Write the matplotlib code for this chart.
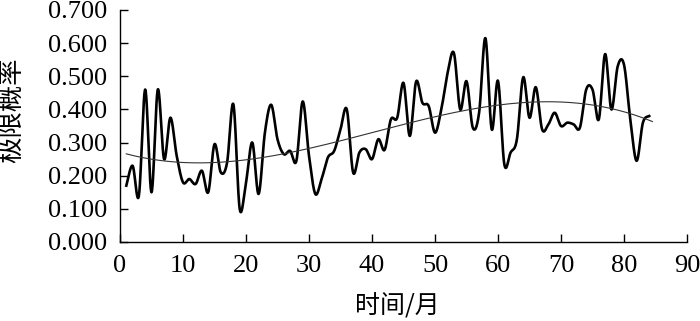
import numpy as np
import matplotlib
matplotlib.use("Agg")
import matplotlib.pyplot as plt

# monthly limit probability
months = list(range(1, 85))
prob = [0.17, 0.23, 0.14, 0.46, 0.15, 0.46, 0.25, 0.375, 0.26, 0.18,
        0.19, 0.175, 0.215, 0.15, 0.295, 0.21, 0.24, 0.415, 0.10, 0.18,
        0.30, 0.145, 0.33, 0.414, 0.31, 0.265, 0.275, 0.245, 0.424, 0.26,
        0.145, 0.19, 0.255, 0.275, 0.34, 0.40, 0.21, 0.27, 0.28, 0.25,
        0.31, 0.278, 0.37, 0.375, 0.48, 0.32, 0.484, 0.42, 0.41, 0.33,
        0.40, 0.51, 0.57, 0.40, 0.485, 0.345, 0.39, 0.615, 0.34, 0.486,
        0.235, 0.27, 0.31, 0.497, 0.375, 0.467, 0.34, 0.355, 0.39, 0.35,
        0.36, 0.355, 0.345, 0.46, 0.46, 0.37, 0.567, 0.40, 0.53, 0.535,
        0.37, 0.245, 0.36, 0.38]

# trend curve readings
trend_x = [1, 15, 30, 40, 50, 57, 69, 79.6, 84.5]
trend_y = [0.265, 0.241, 0.288, 0.32, 0.38, 0.406, 0.424, 0.396, 0.362]

xticks = list(range(0, 91, 10))
yticks = [0.0, 0.1, 0.2, 0.3, 0.4, 0.5, 0.6, 0.7]


def catmull_rom(x, y, n=24):
    """Excel-like smoothed line through the points."""
    x = np.asarray(x, float)
    y = np.asarray(y, float)
    px = np.concatenate([[x[0]], x, [x[-1]]])
    py = np.concatenate([[y[0]], y, [y[-1]]])
    t = np.linspace(0, 1, n, endpoint=False)[:, None]
    out_x, out_y = [], []
    for i in range(1, len(px) - 2):
        for p, out in ((px, out_x), (py, out_y)):
            p0, p1, p2, p3 = p[i - 1], p[i], p[i + 1], p[i + 2]
            seg = 0.5 * ((2 * p1) + (-p0 + p2) * t
                         + (2 * p0 - 5 * p1 + 4 * p2 - p3) * t ** 2
                         + (-p0 + 3 * p1 - 3 * p2 + p3) * t ** 3)
            out.append(seg.ravel())
    out_x.append([x[-1]])
    out_y.append([y[-1]])
    return np.concatenate(out_x), np.concatenate(out_y)


num_font = {"family": "Liberation Serif", "size": 19}
cjk = ["Noto Sans CJK SC", "DejaVu Sans"]

fig = plt.figure(figsize=(7, 3.21), dpi=100)
ax = fig.add_axes([120 / 700, 1 - 242 / 321, 567 / 700, 232 / 321])

sx, sy = catmull_rom(months, prob)
ax.plot(sx, sy, color="black", lw=1.9, solid_joinstyle="round")

coef = np.polyfit(trend_x, trend_y, 3)
tx = np.linspace(trend_x[0], trend_x[-1], 200)
ax.plot(tx, np.polyval(coef, tx), color="#333333", lw=0.8)

ax.set_xlim(0, 90)
ax.set_ylim(0, 0.7)
ax.set_xticks(xticks)
ax.set_yticks(yticks)
ax.set_xticklabels([str(v) for v in xticks], fontdict=num_font)
ax.set_yticklabels([f"{v:.3f}" for v in yticks], fontdict=num_font)
ax.tick_params(direction="in", length=6, width=1)
ax.tick_params(axis="y", pad=9)
ax.tick_params(axis="x", pad=9)
for s in ("top", "right"):
    ax.spines[s].set_visible(False)
for s in ("left", "bottom"):
    ax.spines[s].set_linewidth(1)

fig.text(397 / 700, 1 - 306 / 321, "时间/月", family=cjk, size=18,
         ha="center", va="center")
fig.text(12 / 700, 1 - 110 / 321, "极限概率", family=cjk, size=19,
         rotation=90, ha="center", va="center")

fig.savefig("out.png", dpi=100)
